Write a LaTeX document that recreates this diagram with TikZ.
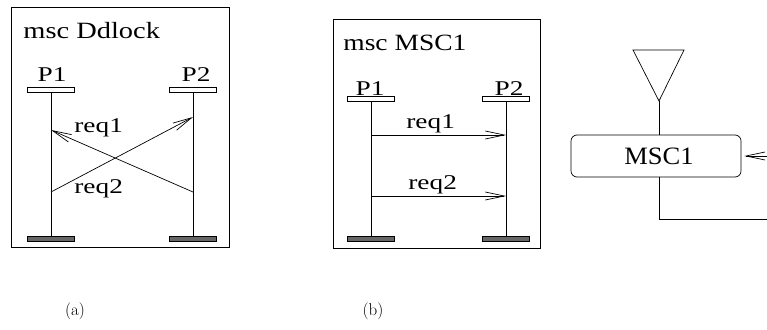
\documentclass[tikz,border=0pt]{standalone}
\usepackage{fontspec}
\newfontfamily\tms{Liberation Serif}
\usetikzlibrary{arrows.meta}
\begin{document}
\begin{tikzpicture}[x=1pt,y=-1pt, line width=0.8pt,
 frame/.style={draw, inner sep=0pt, anchor=north west},
 head/.style={draw, fill=white, minimum width=47pt, minimum height=5pt, inner sep=0pt},
 foot/.style={draw, fill=black!60, minimum width=47pt, minimum height=5pt, inner sep=0pt},
 life/.style={line width=0.7pt},
 msg/.style={-{Straight Barb[length=19pt,width=8pt]}, line width=0.7pt},
 ttl/.style={inner sep=0pt, anchor=base west, font=\tms\fontsize{23.3}{26}\selectfont},
 lbl/.style={inner sep=0pt, anchor=base west, font=\tms\fontsize{21}{24}\selectfont},
 pname/.style={inner sep=0pt, anchor=base, font=\tms\fontsize{21}{24}\selectfont},
 captext/.style={inner sep=0pt, font=\fontsize{17}{20}\selectfont}
]
\useasboundingbox (0,0) rectangle (767,329);

% ---------- (a) ----------
\node[frame, minimum width=218pt, minimum height=240pt] (boxa) at (10.7,7) {};
\node[ttl] (ta) at (23,38) {\scalebox{1.22}[1]{msc Ddlock}};
\node[head] (ha1) at (51,89.5) {};
\node[head] (ha2) at (193,89.5) {};
\node[pname] (pa1) at (52,81.7) {\scalebox{1.3}[1]{P1}};
\node[pname] (pa2) at (196,81.7) {\scalebox{1.3}[1]{P2}};
\node[foot] (fa1) at (51,238.5) {};
\node[foot] (fa2) at (193,238.5) {};
\draw[life] (ha1.south) -- (fa1.north);
\draw[life] (ha2.south) -- (fa2.north);
\coordinate (a1s) at (193,192);
\coordinate (a1e) at (51,130);
\coordinate (a2s) at (51,192);
\coordinate (a2e) at (193,117);
\draw[msg] (a1s) -- (a1e);
\draw[msg] (a2s) -- (a2e);
\node[lbl] (la1) at (74,132) {\scalebox{1.3}[1]{req1}};
\node[lbl] (la2) at (74,193) {\scalebox{1.3}[1]{req2}};

% ---------- (b) left ----------
\node[frame, minimum width=207.3pt, minimum height=228.7pt] (boxb) at (332.7,19.3) {};
\node[ttl] (tb) at (343,51) {\scalebox{1.18}[1]{msc MSC1}};
\node[head] (hb1) at (371,99) {};
\node[head] (hb2) at (506,99) {};
\node[pname] (pb1) at (370,95) {\scalebox{1.3}[1]{P1}};
\node[pname] (pb2) at (509,95) {\scalebox{1.3}[1]{P2}};
\node[foot] (fb1) at (371,239) {};
\node[foot] (fb2) at (506,239) {};
\draw[life] (hb1.south) -- (fb1.north);
\draw[life] (hb2.south) -- (fb2.north);
\coordinate (b1s) at (371,135);
\coordinate (b1e) at (506,135);
\coordinate (b2s) at (371,196);
\coordinate (b2e) at (506,196);
\draw[msg] (b1s) -- (b1e);
\draw[msg] (b2s) -- (b2e);
\node[lbl] (lb1) at (406,128) {\scalebox{1.3}[1]{req1}};
\node[lbl] (lb2) at (408,189) {\scalebox{1.3}[1]{req2}};

% ---------- (b) right ----------
\coordinate (tl) at (633,50);
\coordinate (tr) at (684,50);
\coordinate (apex) at (659,101);
\draw[line width=0.7pt] (tl) -- (tr) -- (apex) -- cycle;
\node[draw, rounded corners=6pt, minimum width=170pt, minimum height=42pt, inner sep=0pt,
      font=\tms\fontsize{25}{28}\selectfont, line width=0.7pt] (msc) at (656,156) {\hspace*{6pt}\scalebox{1.06}[1]{MSC1}};
\draw[life] (apex) -- (apex |- msc.north);
\coordinate (inR) at (767,156);
\draw[msg] (inR) -- ([xshift=3pt]msc.east);
\coordinate (outR) at (767,219);
\draw[life] (apex |- msc.south) -- (apex |- outR) -- (outR);

% ---------- captions ----------
\node[captext] (capa) at (75,311.5) {(a)};
\node[captext] (capb) at (373,311.5) {(b)};
\end{tikzpicture}
\end{document}
